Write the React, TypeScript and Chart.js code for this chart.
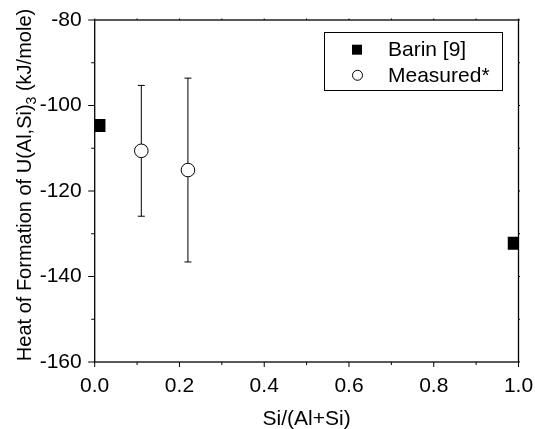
import React, { useEffect, useRef } from "react";
import { Chart, registerables } from "chart.js";

Chart.register(...registerables);

const barinX = [0.01, 0.99];
const barinY = [-104.7, -132.2];
const measX = [0.11, 0.22];
const measY = [-110.6, -115.1];
const measErr = [15.3, 21.5];
const legendLabels = ["Barin [9]", "Measured*"];
const xTitle = "Si/(Al+Si)";
const yTitleMain = "Heat of Formation of U(Al,Si)";
const yTitleSub = "3";
const yTitleTail = " (kJ/mole)";
const xMajorTicks = [0, 0.2, 0.4, 0.6, 0.8, 1.0];
const yMajorTicks = [-160, -140, -120, -100, -80];

const FONT = "Liberation Sans, Arial, Helvetica, sans-serif";
const FS = 21;

const framePlugin = {
  id: "frame",
  beforeDatasetsDraw(chart: any) {
    const { ctx, chartArea: a, scales } = chart;
    const xs = scales.x;
    const ys = scales.y;
    ctx.save();
    ctx.strokeStyle = "#000";
    ctx.lineWidth = 1;
    measX.forEach((xv, i) => {
      const px = xs.getPixelForValue(xv);
      const top = ys.getPixelForValue(measY[i] + measErr[i]);
      const bot = ys.getPixelForValue(measY[i] - measErr[i]);
      ctx.beginPath();
      ctx.moveTo(px, top);
      ctx.lineTo(px, bot);
      ctx.moveTo(px - 3.5, top);
      ctx.lineTo(px + 3.5, top);
      ctx.moveTo(px - 3.5, bot);
      ctx.lineTo(px + 3.5, bot);
      ctx.stroke();
    });
    ctx.lineWidth = 1.3;
    ctx.strokeRect(a.left, a.top, a.right - a.left, a.bottom - a.top);
    ctx.lineWidth = 1;
    for (let k = 0; k <= 10; k++) {
      const v = k / 10;
      const px = xs.getPixelForValue(v);
      const major = k % 2 === 0;
      ctx.beginPath();
      ctx.moveTo(px, a.bottom);
      ctx.lineTo(px, a.bottom + (major ? 5 : 3));
      ctx.moveTo(px, a.top);
      ctx.lineTo(px, a.top - 1.5);
      ctx.stroke();
    }
    for (let v = -160; v <= -80; v += 10) {
      const py = ys.getPixelForValue(v);
      const major = v % 20 === 0;
      ctx.beginPath();
      ctx.moveTo(a.left, py);
      ctx.lineTo(a.left - (major ? 6.5 : 3.5), py);
      ctx.moveTo(a.right, py);
      ctx.lineTo(a.right + 1.5, py);
      ctx.stroke();
    }
    ctx.restore();
  },
  afterDraw(chart: any) {
    const { ctx, chartArea: a } = chart;
    ctx.save();
    ctx.fillStyle = "#000";
    ctx.strokeStyle = "#000";
    ctx.lineWidth = 1;
    ctx.strokeRect(324.5, 32.5, 178, 58);
    ctx.font = `${FS}px ${FONT}`;
    ctx.textBaseline = "alphabetic";
    ctx.textAlign = "left";
    ctx.fillRect(352, 44.7, 10, 10);
    ctx.fillText(legendLabels[0], 388, 55.5);
    ctx.beginPath();
    ctx.arc(357.5, 75.3, 5, 0, Math.PI * 2);
    ctx.fillStyle = "#fff";
    ctx.fill();
    ctx.stroke();
    ctx.fillStyle = "#000";
    ctx.fillText(legendLabels[1], 388, 81.5);
    ctx.textAlign = "center";
    ctx.fillText(xTitle, (a.left + a.right) / 2, 424.5);
    const mainFont = `20px ${FONT}`;
    const subFont = `14px ${FONT}`;
    ctx.font = mainFont;
    const w1 = ctx.measureText(yTitleMain).width;
    const w3 = ctx.measureText(yTitleTail).width;
    ctx.font = subFont;
    const w2 = ctx.measureText(yTitleSub).width;
    const total = w1 + w2 + w3;
    const cy = 185;
    ctx.translate(31, cy);
    ctx.rotate(-Math.PI / 2);
    ctx.textAlign = "left";
    let u = -total / 2;
    ctx.font = mainFont;
    ctx.fillText(yTitleMain, u, 0);
    u += w1;
    ctx.font = subFont;
    ctx.fillText(yTitleSub, u, 5);
    u += w2;
    ctx.font = mainFont;
    ctx.fillText(yTitleTail, u, 0);
    ctx.restore();
  },
};

export default function App() {
  const ref = useRef<HTMLCanvasElement>(null);
  useEffect(() => {
    if (!ref.current) return;
    const chart = new Chart(ref.current, {
      type: "scatter",
      data: {
        datasets: [
          {
            label: legendLabels[0],
            data: barinX.map((x, i) => ({ x, y: barinY[i] })),
            pointStyle: "rect",
            pointRadius: 9.2,
            backgroundColor: "#000",
            borderColor: "#000",
            borderWidth: 0,
          },
          {
            label: legendLabels[1],
            data: measX.map((x, i) => ({ x, y: measY[i] })),
            pointStyle: "circle",
            pointRadius: 6.8,
            backgroundColor: "#fff",
            borderColor: "#000",
            borderWidth: 1,
          },
        ],
      },
      options: {
        animation: false,
        responsive: false,
        devicePixelRatio: 1,
        layout: { padding: { left: 0, top: 20, right: 16.5, bottom: 0 } },
        plugins: {
          legend: { display: false },
          tooltip: { enabled: false },
        },
        scales: {
          x: {
            type: "linear",
            min: 0,
            max: 1,
            grid: { display: false, drawTicks: false },
            border: { display: false },
            afterBuildTicks: (s: any) => {
              s.ticks = xMajorTicks.map((v) => ({ value: v }));
            },
            afterFit: (s: any) => {
              s.height = 67;
              s.paddingLeft = 0;
              s.paddingRight = 0;
            },
            ticks: {
              color: "#000",
              padding: 12,
              maxRotation: 0,
              font: { family: FONT, size: FS },
              callback: (v: any) => Number(v).toFixed(1),
            },
          },
          y: {
            type: "linear",
            min: -160,
            max: -80,
            grid: { display: false, drawTicks: false },
            border: { display: false },
            afterBuildTicks: (s: any) => {
              s.ticks = yMajorTicks.map((v) => ({ value: v }));
            },
            afterFit: (s: any) => {
              s.width = 94.7;
              s.paddingTop = 0;
              s.paddingBottom = 0;
            },
            ticks: {
              color: "#000",
              padding: 13,
              font: { family: FONT, size: FS },
              callback: (v: any) => String(v),
            },
          },
        },
      },
      plugins: [framePlugin],
    });
    return () => chart.destroy();
  }, []);
  return (
    <div style={{ position: "fixed", left: 0, top: 0, width: 535, height: 429, background: "#fff" }}>
      <canvas ref={ref} width={535} height={429} style={{ width: 535, height: 429 }} />
    </div>
  );
}
